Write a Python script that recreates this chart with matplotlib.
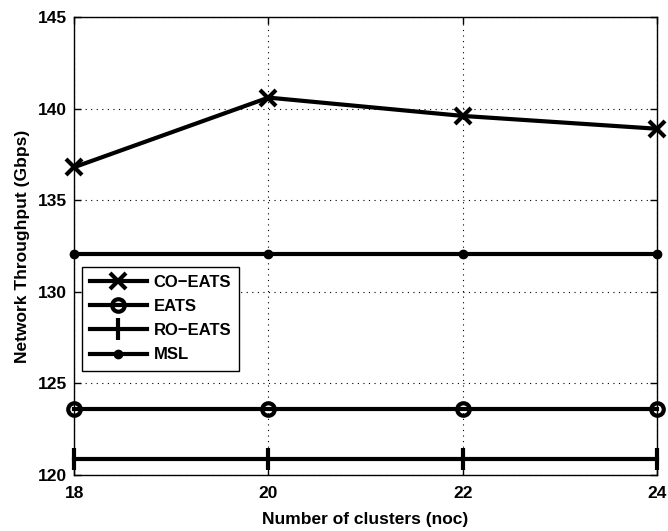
import matplotlib.pyplot as plt

plt.rcParams['font.family'] = ['Liberation Sans', 'DejaVu Sans']
plt.rcParams['font.weight'] = 'bold'

clusters = [18, 20, 22, 24]
co_eats = [136.8, 140.6, 139.6, 138.9]
eats = [123.62, 123.62, 123.62, 123.62]
ro_eats = [120.86, 120.86, 120.86, 120.86]
msl = [132.07, 132.07, 132.07, 132.07]

fig = plt.figure(figsize=(6.68, 5.31), dpi=100)
ax = fig.add_axes([0.111, 0.1055, 0.8725, 0.8625])

ax.plot(clusters, co_eats, color='k', lw=3, marker='x', ms=11, mew=3,
        label='CO\u2212EATS', clip_on=False, zorder=3)
ax.plot(clusters, eats, color='k', lw=3, marker='o', ms=9, mew=3,
        mfc='none', label='EATS', clip_on=False, zorder=3)
ax.plot(clusters, ro_eats, color='k', lw=3, marker='|', ms=16, mew=3,
        label='RO\u2212EATS', clip_on=False, zorder=3)
ax.plot(clusters, msl, color='k', lw=3, marker='o', ms=6,
        label='MSL', clip_on=False, zorder=3)

ax.set_xlim(18, 24)
ax.set_ylim(120, 145)
ax.set_xticks(clusters)
ax.set_yticks([120, 125, 130, 135, 140, 145])
ax.grid(True, color='k', linestyle=(0, (1, 4)), linewidth=0.8)
ax.tick_params(direction='in', length=5, width=1, labelsize=12.5,
               top=True, right=True)
ax.tick_params(axis='x', pad=8)
ax.tick_params(axis='y', pad=5)
for lbl in ax.get_xticklabels() + ax.get_yticklabels():
    lbl.set_fontweight('bold')
for s in ax.spines.values():
    s.set_linewidth(1)

ax.set_xlabel('Number of clusters (noc)', fontsize=12.5, fontweight='bold',
              labelpad=8)
ax.set_ylabel('Network Throughput (Gbps)', fontsize=12.5, fontweight='bold',
              labelpad=6)

leg = ax.legend(loc='upper left', bbox_to_anchor=(0.013, 0.455),
                fontsize=12, handlelength=3.4, borderaxespad=0,
                fancybox=False, framealpha=1, edgecolor='k',
                labelspacing=0.55, handletextpad=0.4, borderpad=0.5)
leg.get_frame().set_linewidth(1)
for t in leg.get_texts():
    t.set_fontweight('bold')

fig.savefig('out.png', dpi=100)
